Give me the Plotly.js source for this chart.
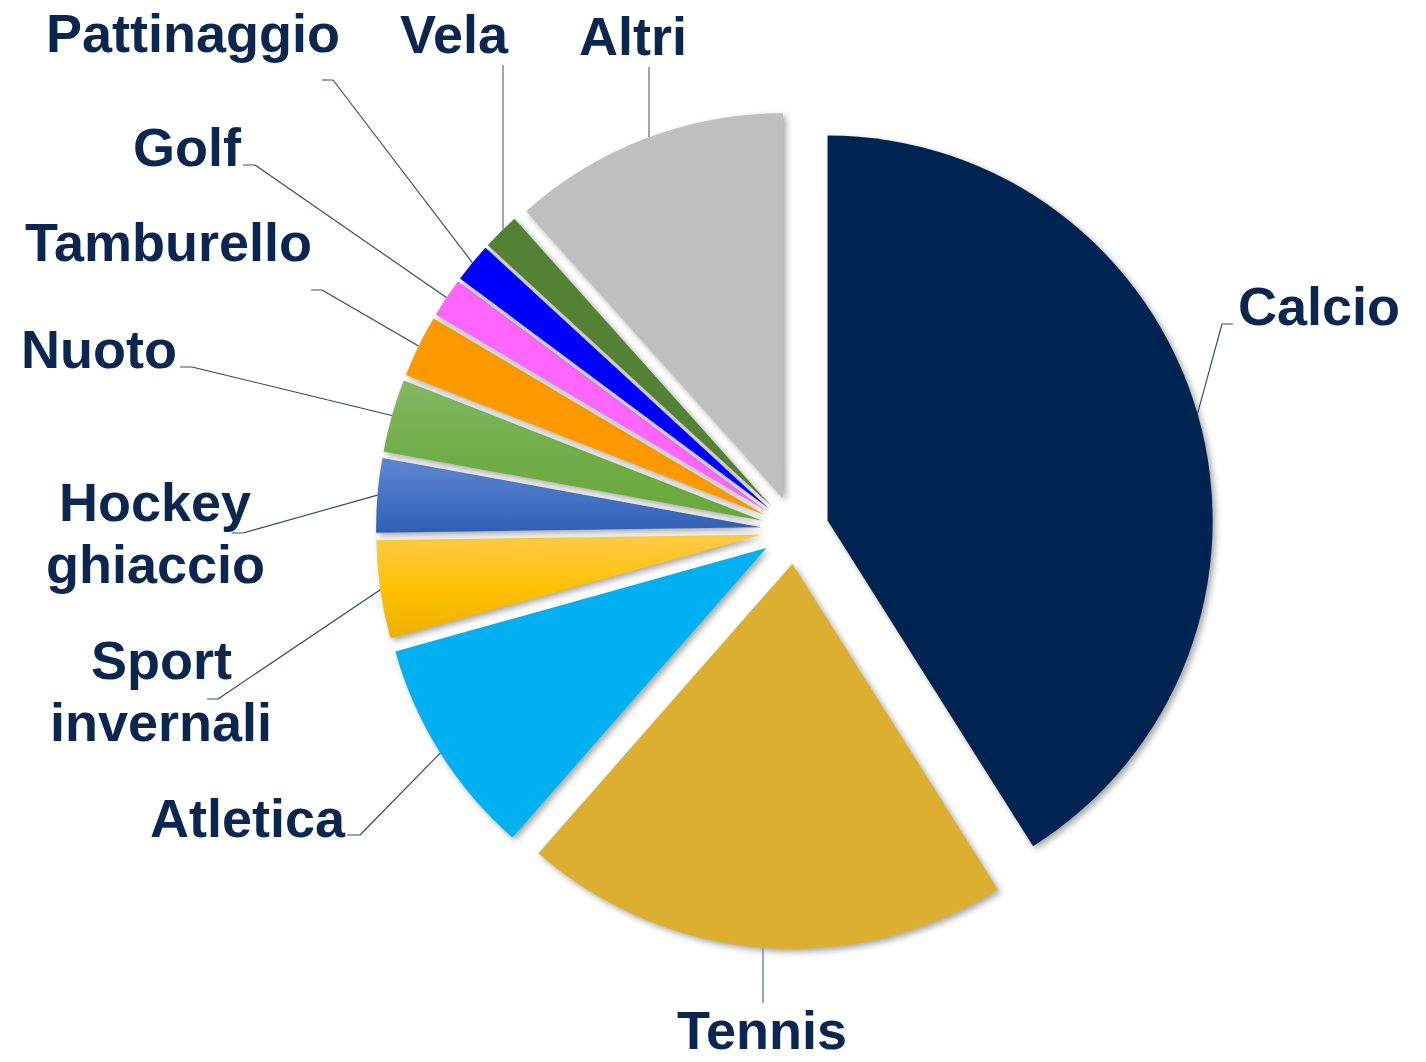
<!DOCTYPE html>
<html>
<head>
<meta charset="utf-8">
<script src="https://cdn.plot.ly/plotly-3.0.1.min.js"></script>
<style>
  html, body { margin: 0; padding: 0; background: #ffffff; }
  #chart { width: 1426px; height: 1062px; }
  .pielayer .slice path.surface { filter: drop-shadow(3px 3px 3px rgba(0,0,0,0.35)); }
</style>
</head>
<body>
<div id="chart"></div>
<script>
// ---------------- data ----------------
var categories = ['Calcio', 'Tennis', 'Atletica', 'Sport invernali', 'Hockey ghiaccio',
                  'Nuoto', 'Tamburello', 'Golf', 'Pattinaggio', 'Vela', 'Altri'];
var values = [41.0, 20.4, 9.2, 4.1, 3.1, 3.05, 2.6, 1.65, 1.65, 1.55, 11.6];
var sliceColors = ['#002451', '#DDAF31', '#00B0F0', '#FFC000', '#4472C4',
                   '#70AD47', '#FF9900', '#FF66FF', '#0000FF', '#548235', '#BFBFBF'];
// gradient (top, bottom) for some slices
var gradients = {
  'Sport invernali': ['#FFCB45', '#EBB000'],
  'Hockey ghiaccio': ['#5E88D2', '#2F5EB5'],
  'Nuoto': ['#84B862', '#68A93C']
};

// ---------------- layout config (pixels) ----------------
var W = 1426, H = 1062;
var pieCx = 795, pieCy = 530, pieOuter = 419, pullFrac = 0.088;
var fontSize = 54, lineGap = 62;
var textColor = '#0B2750';
// label: centre of first line (x, cap-centre y); leader: elbow & stub end, or vertical line x & end y
var labelPos = [
  {x: 1319, y: 306, elbow: [1222, 324], stub: [1233, 324]},
  {x: 762,  y: 1030, vx: 763, vEnd: 1003, bottom: true},
  {x: 248,  y: 818, elbow: [360, 835], stub: [347, 835]},
  {x: 161,  y: 660, elbow: [218, 699], stub: [207, 699]},
  {x: 155,  y: 502, elbow: [243, 533], stub: [232, 533]},
  {x: 99,   y: 349, elbow: [192, 367], stub: [180, 367]},
  {x: 168,  y: 242, elbow: [322, 290], stub: [311, 290]},
  {x: 187,  y: 147, elbow: [255, 165], stub: [243, 165]},
  {x: 193,  y: 33,  elbow: [333, 80],  stub: [322, 80]},
  {x: 455,  y: 34,  vx: 503, vEnd: 65},
  {x: 633,  y: 36,  vx: 649, vEnd: 67}
];

function px2x(p) { return p / W; }
function px2y(p) { return 1 - p / H; }

// pie geometry (same as Plotly: r = half box / (1 + maxPull), pulled by pull*r)
var r = pieOuter / (1 + pullFrac);
var total = values.reduce(function (a, b) { return a + b; }, 0);
var cum = 0;
var shapes = [], annotations = [];
var diagColor = '#2A4470', stubColor = '#7D90AA';

categories.forEach(function (cat, i) {
  var a0 = cum / total * 2 * Math.PI;
  cum += values[i];
  var a1 = cum / total * 2 * Math.PI;
  var mid = (a0 + a1) / 2;
  var ux = Math.sin(mid), uy = -Math.cos(mid);
  var apexX = pieCx + pullFrac * r * ux, apexY = pieCy + pullFrac * r * uy;
  var L = labelPos[i];

  if (L.vx !== undefined) {
    var dx = L.vx - apexX;
    var dy = Math.sqrt(r * r - dx * dx);
    var arcY = L.bottom ? apexY + dy : apexY - dy;
    shapes.push({type: 'line', xref: 'paper', yref: 'paper',
      x0: px2x(L.vx), y0: px2y(arcY), x1: px2x(L.vx), y1: px2y(L.vEnd),
      line: {color: stubColor, width: 1.6}});
  } else {
    var ax = apexX + r * ux, ay = apexY + r * uy;
    shapes.push({type: 'line', xref: 'paper', yref: 'paper',
      x0: px2x(ax), y0: px2y(ay), x1: px2x(L.elbow[0]), y1: px2y(L.elbow[1]),
      line: {color: diagColor, width: 1.1}});
    shapes.push({type: 'line', xref: 'paper', yref: 'paper',
      x0: px2x(L.elbow[0]), y0: px2y(L.elbow[1]), x1: px2x(L.stub[0]), y1: px2y(L.stub[1]),
      line: {color: stubColor, width: 1.6}});
  }

  var lines = cat.split(' ');
  lines.forEach(function (t, k) {
    annotations.push({
      xref: 'paper', yref: 'paper', x: px2x(L.x), y: px2y(L.y + k * lineGap),
      xanchor: 'center', yanchor: 'middle', showarrow: false, text: t,
      font: {family: 'Liberation Sans, Arial, sans-serif', size: fontSize, color: textColor, weight: 700}
    });
  });
});

var trace = {
  type: 'pie',
  labels: categories,
  values: values,
  sort: false,
  direction: 'clockwise',
  rotation: 0,
  pull: categories.map(function () { return pullFrac; }),
  marker: {colors: sliceColors, line: {width: 0}},
  textinfo: 'none',
  hoverinfo: 'label+percent',
  showlegend: false,
  domain: {
    x: [px2x(pieCx - pieOuter - 10), px2x(pieCx + pieOuter + 10)],
    y: [px2y(pieCy + pieOuter), px2y(pieCy - pieOuter)]
  }
};

var layout = {
  width: W, height: H,
  margin: {l: 0, r: 0, t: 0, b: 0},
  paper_bgcolor: '#ffffff',
  plot_bgcolor: '#ffffff',
  showlegend: false,
  shapes: shapes,
  annotations: annotations
};

Plotly.newPlot('chart', [trace], layout, {displayModeBar: false, staticPlot: true}).then(function (gd) {
  // vertical gradients on some slices
  var svg = gd.querySelector('svg.main-svg');
  var ns = 'http://www.w3.org/2000/svg';
  var defs = svg.querySelector('defs') || svg.insertBefore(document.createElementNS(ns, 'defs'), svg.firstChild);
  var slices = gd.querySelectorAll('.pielayer .slice path.surface');
  categories.forEach(function (cat, i) {
    var g = gradients[cat];
    if (!g || !slices[i]) return;
    var id = 'grad' + i;
    var lg = document.createElementNS(ns, 'linearGradient');
    lg.setAttribute('id', id);
    lg.setAttribute('x1', '0'); lg.setAttribute('y1', '0');
    lg.setAttribute('x2', '0'); lg.setAttribute('y2', '1');
    [[0, g[0]], [0.55, sliceColors[i]], [1, g[1]]].forEach(function (s) {
      var st = document.createElementNS(ns, 'stop');
      st.setAttribute('offset', s[0]);
      st.setAttribute('stop-color', s[1]);
      lg.appendChild(st);
    });
    defs.appendChild(lg);
    slices[i].style.fill = 'url(#' + id + ')';
  });
});
</script>
</body>
</html>
